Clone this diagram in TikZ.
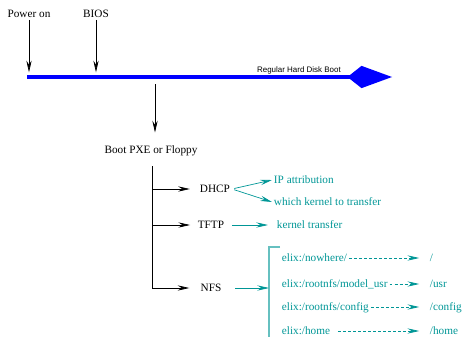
\documentclass[tikz,border=0pt]{standalone}
\usepackage{fontspec}
\setmainfont{Liberation Serif}
\setsansfont{Liberation Sans}
\usetikzlibrary{arrows.meta}

\definecolor{nfsteal}{RGB}{0,150,150}

\begin{document}
\begin{tikzpicture}[x=0.03cm, y=-0.03cm,
    txt/.style={inner sep=1.5pt, text height=6.5pt, text depth=0pt, font=\fontsize{9.6}{11}\selectfont},
    tealtxt/.style={txt, text=nfsteal},
    hd/.style={inner sep=0pt, font=\sffamily\fontsize{6.8}{8}\selectfont},
    blk/.style={-{Stealth[length=10pt,width=4.5pt,inset=3.5pt]}, line width=0.6pt},
    tl/.style={blk, draw=nfsteal},
    mnt/.style={tl, dash pattern=on 2.5pt off 1.8pt},
    brk/.style={draw=nfsteal!60, line width=1pt}]
        \useasboundingbox (0,0) rectangle (464,337);

        % the boot line
        \coordinate (start) at (27,77);
        \coordinate (end) at (392,77);
        \draw[blue, line width=2.6pt, -{Kite[length=38pt,width=19pt,inset=12pt]}] (start) -- (end);
        \node[hd, anchor=base east] (hdboot) at (341,72) {Regular Hard Disk Boot};

        % the texts
        \node[txt] (power) at (29,14) {Power on};
        \node[txt] (bios) at (96,14) {BIOS};
        \node[txt] (pxe) at (151,150) {Boot PXE or Floppy};
        \node[txt] (dhcp) at (215,189) {DHCP};
        \node[txt] (tftp) at (211,225) {TFTP};
        \node[txt] (nfs) at (211,288) {NFS};

        \node[tealtxt, anchor=west] (ip) at (272,180) {IP attribution};
        \node[tealtxt, anchor=west] (which) at (272,202) {which kernel to transfer};
        \node[tealtxt, anchor=west] (kern) at (275,225) {kernel transfer};

        % the mounts
        \node[tealtxt, anchor=west] (src1) at (280,258) {elix:/nowhere/};
        \node[tealtxt, anchor=west] (src2) at (280,284) {elix:/rootnfs/model\_usr};
        \node[tealtxt, anchor=west] (src3) at (280,307) {elix:/rootnfs/config};
        \node[tealtxt, anchor=west] (src4) at (280,331) {elix:/home};
        \node[tealtxt, anchor=west] (dst1) at (428,258) {/};
        \node[tealtxt, anchor=west] (dst2) at (428,284) {/usr};
        \node[tealtxt, anchor=west] (dst3) at (428,307) {/config};
        \node[tealtxt, anchor=west] (dst4) at (428,331) {/home};

        % the points for the trunk and the bracket
        \coordinate (fork) at (155,77);
        \coordinate (trunk) at (152,166);
        \coordinate (brtop) at (280,247);
        \coordinate (brbot) at (269,338);

        % draw the arrows
        \draw[blk, shorten >=4pt] (power.south) -- (power.south |- start);
        \draw[blk, shorten >=4pt] (bios.south) -- (bios.south |- start);
        \draw[blk, shorten <=6pt, shorten >=10pt] (fork) -- (fork |- pxe.north);
        \draw[blk, shorten >=8pt] (trunk) |- (nfs);
        \draw[blk, shorten >=7pt] (trunk |- dhcp) -- (dhcp);
        \draw[blk, shorten >=5pt] (trunk |- tftp) -- (tftp);

        \draw[tl, shorten <=2pt] (dhcp.east) -- (ip.west);
        \draw[tl, shorten <=2pt] (dhcp.east) -- (which.west);
        \draw[tl, shorten <=5pt, shorten >=6pt] (tftp.east) -- (kern.west);

        \draw[brk] (brtop) -| (brbot);
        \draw[tl, shorten <=10pt] (nfs.east) -- (nfs.east -| brbot);

        \draw[mnt, shorten >=7.5pt] (src1) -- (dst1);
        \draw[mnt, shorten >=7.5pt] (src2) -- (dst2);
        \draw[mnt, shorten >=7.5pt] (src3) -- (dst3);
        \draw[mnt, shorten <=5pt, shorten >=7.5pt] (src4) -- (dst4);

    \end{tikzpicture}
\end{document}
